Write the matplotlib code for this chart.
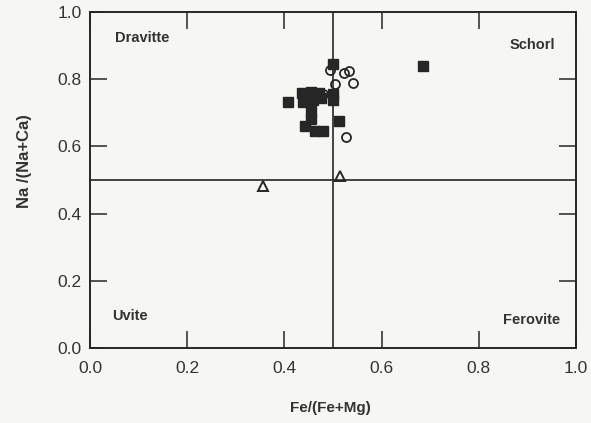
import matplotlib
matplotlib.use('Agg')
import matplotlib.pyplot as plt

# Fe/(Fe+Mg) vs Na/(Na+Ca) for tourmaline samples
sq_x = [0.500, 0.500, 0.500, 0.407, 0.436, 0.455, 0.471, 0.438, 0.459, 0.475,
        0.455, 0.455, 0.442, 0.463, 0.479, 0.512, 0.685]
sq_y = [0.845, 0.757, 0.737, 0.733, 0.760, 0.763, 0.760, 0.733, 0.737, 0.743,
        0.704, 0.683, 0.662, 0.647, 0.647, 0.677, 0.838]

ci_x = [0.494, 0.523, 0.533, 0.541, 0.504, 0.479, 0.527]
ci_y = [0.826, 0.817, 0.823, 0.790, 0.787, 0.757, 0.629]

tr_x = [0.356, 0.514]
tr_y = [0.482, 0.512]

fields = [('Dravitte', 0.051, 0.923, 'left'), ('Schorl', 0.957, 0.902, 'right'),
          ('Uvite', 0.045, 0.095, 'left'), ('Ferovite', 0.967, 0.083, 'right')]

plt.rcParams['font.family'] = ['Liberation Sans', 'DejaVu Sans']
ink = '#262626'
txt = '#333333'

fig = plt.figure(figsize=(5.91, 4.23), dpi=100, facecolor='#f6f6f3')
ax = fig.add_axes([0.1523, 0.1773, 0.8223, 0.7943])
ax.set_facecolor('#f6f6f3')

ax.axvline(0.5, color=ink, lw=1.2, zorder=1)
ax.axhline(0.5, color=ink, lw=1.2, zorder=1)

ax.plot(sq_x, sq_y, 's', ms=7, color=ink, mec=ink, zorder=3)
ax.plot(ci_x, ci_y, 'o', ms=6.5, mfc='none', mec=ink, mew=1.3, zorder=4)
ax.plot(tr_x, tr_y, '^', ms=7, mfc='none', mec=ink, mew=1.4, zorder=4)

for name, fx, fy, ha in fields:
    ax.text(fx, fy, name, ha=ha, va='center', fontsize=10.5,
            fontweight='bold', color=txt)

ax.set_xlim(0, 1)
ax.set_ylim(0, 1)
ticks = [0.0, 0.2, 0.4, 0.6, 0.8, 1.0]
ax.set_xticks(ticks)
ax.set_yticks(ticks)
ax.set_xticklabels(['%.1f' % t for t in ticks])
ax.set_yticklabels(['%.1f' % t for t in ticks])
ax.tick_params(direction='in', length=12, width=1.1, color=ink,
               top=True, right=True, labelsize=12.5, labelcolor=txt)
ax.tick_params(axis='x', pad=9)
ax.tick_params(axis='y', pad=6)
for sp in ax.spines.values():
    sp.set_linewidth(1.4)
    sp.set_color(ink)

xl = ax.set_xlabel('Fe/(Fe+Mg)', fontsize=11, fontweight='bold', color=txt)
yl = ax.set_ylabel('Na /(Na+Ca)', fontsize=12, fontweight='bold', color=txt)
xl.set_va('center')
yl.set_va('center')
ax.xaxis.set_label_coords(0.494, -0.179)
ax.yaxis.set_label_coords(-0.134, 0.557)

fig.savefig('out.png', dpi=100, facecolor=fig.get_facecolor())
